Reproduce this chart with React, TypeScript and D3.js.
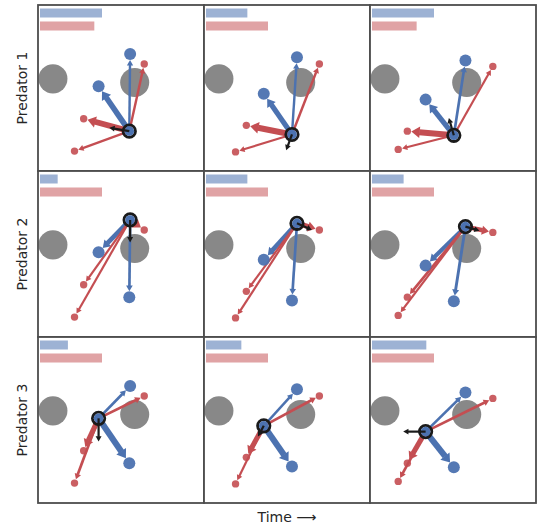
import { useEffect, useRef } from "react";
import * as d3 from "d3";

type Pt = [number, number];

const predatorLabels = ["Predator 1", "Predator 2", "Predator 3"];
const timeSteps = [0, 1, 2];

// positions per time step, world coords in [-1, 1]
const predator1: Pt[] = [[0.10, -0.52], [0.06, -0.56], [0.01, -0.57]];
const predator2: Pt[] = [[0.11, 0.41], [0.12, 0.37], [0.15, 0.33]];
const predator3: Pt[] = [[-0.27, 0.02], [-0.28, -0.07], [-0.33, -0.14]];

const prey1: Pt[] = [[0.28, 0.29], [0.39, 0.29], [0.48, 0.26]];
const prey2: Pt[] = [[-0.45, -0.37], [-0.49, -0.45], [-0.55, -0.52]];
const prey3: Pt[] = [[-0.56, -0.76], [-0.62, -0.77], [-0.66, -0.74]];

// velocity of each predator
const heading1: Pt[] = [[-0.24, 0.04], [-0.07, -0.19], [-0.06, 0.21]];
const heading2: Pt[] = [[0.0, -0.27], [0.18, -0.08], [0.17, -0.05]];
const heading3: Pt[] = [[0.0, -0.28], [-0.07, -0.13], [-0.27, 0.0]];

const landmarks: Pt[] = [[-0.82, 0.11], [0.165, 0.066]];
const landmarkRadius = 0.175;

// attention to the other predators (in index order), per time step
const predAttention1 = [[0.15, 0.8], [0.15, 0.7], [0.2, 0.7]];
const predAttention2 = [[0.2, 0.6], [0.2, 0.6], [0.25, 0.5]];
const predAttention3 = [[0.9, 0.2], [0.9, 0.15], [0.9, 0.2]];
// attention to prey, per time step
const preyAttention1 = [[0.15, 0.85, 0.12], [0.15, 0.9, 0.1], [0.1, 0.9, 0.1]];
const preyAttention2 = [[0.7, 0.1, 0.1], [0.7, 0.1, 0.1], [0.55, 0.2, 0.1]];
const preyAttention3 = [[0.2, 0.7, 0.2], [0.2, 0.7, 0.1], [0.2, 0.7, 0.2]];

// group attention bars (blue = predators, red = prey)
const predBar = [[1, 0.667, 1], [0.285, 0.667, 0.51], [0.45, 0.57, 0.876]];
const preyBar = [[0.876, 1, 0.72], [1, 1, 1], [1, 1, 1]];

const BLUE = "#4c72b0";
const RED = "#c44e52";

const App = () => {
  const ref = useRef<SVGSVGElement | null>(null);

  useEffect(() => {
    if (!ref.current) return;
    const svg = d3.select(ref.current);
    svg.selectAll("*").remove();

    const left = 38,
      top = 5,
      cell = 166;

    const x = d3.scaleLinear().domain([-1, 1]).range([0, cell]);
    const y = d3.scaleLinear().domain([-1, 1]).range([cell, 0]);
    const widthScale = d3.scaleLinear().domain([0, 1]).range([1.7, 6.6]);
    const barScale = d3.scaleLinear().domain([0, 1]).range([0, 62]);

    const predators = [predator1, predator2, predator3];
    const headings = [heading1, heading2, heading3];
    const preys = [prey1, prey2, prey3];
    const predAtt = [predAttention1, predAttention2, predAttention3];
    const preyAtt = [preyAttention1, preyAttention2, preyAttention3];

    const arrow = (
      g: d3.Selection<SVGGElement, unknown, null, undefined>,
      from: Pt,
      to: Pt,
      w: number,
      color: string,
      gap: number
    ) => {
      const dx = to[0] - from[0],
        dy = to[1] - from[1];
      const len = Math.hypot(dx, dy);
      const ux = dx / len,
        uy = dy / len;
      const tipX = to[0] - ux * gap,
        tipY = to[1] - uy * gap;
      const hl = w * 0.8 + 3.5;
      const hw = w * 0.75 + 1.3;
      const bx = tipX - ux * hl,
        by = tipY - uy * hl;
      g.append("line")
        .attr("x1", from[0])
        .attr("y1", from[1])
        .attr("x2", bx + ux * 0.5)
        .attr("y2", by + uy * 0.5)
        .attr("stroke", color)
        .attr("stroke-width", w);
      g.append("polygon")
        .attr(
          "points",
          [
            [tipX, tipY],
            [bx - uy * hw, by + ux * hw],
            [bx + uy * hw, by - ux * hw],
          ]
            .map((p) => p.join(","))
            .join(" ")
        )
        .attr("fill", color);
    };

    predatorLabels.forEach((label, row) => {
      timeSteps.forEach((t, col) => {
        const g = svg
          .append("g")
          .attr("transform", `translate(${left + col * cell},${top + row * cell})`);

        g.append("rect")
          .attr("width", cell)
          .attr("height", cell)
          .attr("fill", "white");

        g.selectAll("circle.lm")
          .data(landmarks)
          .enter()
          .append("circle")
          .attr("cx", (d) => x(d[0]))
          .attr("cy", (d) => y(d[1]))
          .attr("r", x(landmarkRadius) - x(0))
          .attr("fill", "#888888");

        g.append("rect")
          .attr("x", 2)
          .attr("y", 3.5)
          .attr("width", barScale(predBar[row][col]))
          .attr("height", 9)
          .attr("fill", BLUE)
          .attr("opacity", 0.55);
        g.append("rect")
          .attr("x", 2)
          .attr("y", 16.5)
          .attr("width", barScale(preyBar[row][col]))
          .attr("height", 9)
          .attr("fill", RED)
          .attr("opacity", 0.52);

        const me: Pt = [x(predators[row][t][0]), y(predators[row][t][1])];
        const others = predators
          .map((p, i) => ({ i, p: [x(p[t][0]), y(p[t][1])] as Pt }))
          .filter((d) => d.i !== row);
        const preyPts = preys.map((p) => [x(p[t][0]), y(p[t][1])] as Pt);

        const lines = g.append("g");
        others.forEach((o, k) => {
          arrow(lines, me, o.p, widthScale(predAtt[row][t][k]), BLUE, 6);
        });
        preyPts.forEach((p, k) => {
          arrow(lines, me, p, widthScale(preyAtt[row][t][k]), RED, 4);
        });

        others.forEach((o) => {
          g.append("circle")
            .attr("cx", o.p[0])
            .attr("cy", o.p[1])
            .attr("r", 6)
            .attr("fill", BLUE)
            .attr("opacity", 0.95);
        });
        preyPts.forEach((p) => {
          g.append("circle")
            .attr("cx", p[0])
            .attr("cy", p[1])
            .attr("r", 3.7)
            .attr("fill", RED)
            .attr("opacity", 0.9);
        });

        g.append("circle")
          .attr("cx", me[0])
          .attr("cy", me[1])
          .attr("r", 6.2)
          .attr("fill", "none")
          .attr("stroke", "#1a1a1a")
          .attr("stroke-width", 2.8);
        g.append("circle")
          .attr("cx", me[0])
          .attr("cy", me[1])
          .attr("r", 4.8)
          .attr("fill", BLUE);

        const h = headings[row][t];
        const end: Pt = [x(predators[row][t][0] + h[0]), y(predators[row][t][1] + h[1])];
        arrow(g, me, end, 2.2, "#1a1a1a", 0);

        g.append("rect")
          .attr("width", cell)
          .attr("height", cell)
          .attr("fill", "none")
          .attr("stroke", "#4d4d4d")
          .attr("stroke-width", 1.8);
      });

      svg
        .append("text")
        .attr("transform", `translate(27,${top + row * cell + cell / 2}) rotate(-90)`)
        .attr("text-anchor", "middle")
        .attr("font-family", "DejaVu Sans")
        .attr("font-size", 14)
        .attr("fill", "#262626")
        .text(label);
    });

    svg
      .append("text")
      .attr("x", left + (3 * cell) / 2)
      .attr("y", 522)
      .attr("text-anchor", "middle")
      .attr("font-family", "DejaVu Sans")
      .attr("font-size", 14)
      .attr("fill", "#262626")
      .text("Time \u27f6");
  }, []);

  return (
    <svg
      ref={ref}
      width={537}
      height={527}
      style={{ position: "absolute", left: 0, top: 0, background: "white" }}
    ></svg>
  );
};

export default App;
